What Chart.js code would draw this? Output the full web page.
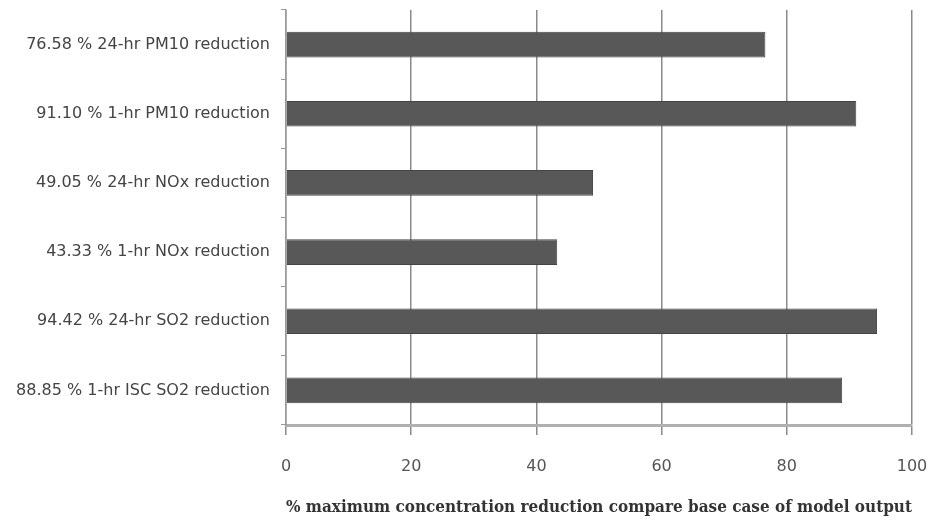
<!DOCTYPE html>
<html>
<head>
<meta charset="utf-8">
<script src="https://cdn.jsdelivr.net/npm/chart.js@4"></script>
<style>
  html,body{margin:0;padding:0;background:#fff;}
  #wrap{width:934px;height:527px;}
</style>
</head>
<body>
<div id="wrap"><canvas id="c" width="934" height="527"></canvas></div>
<script>
// values (top to bottom)
var labels = ["76.58 % 24-hr PM10 reduction","91.10 % 1-hr PM10 reduction","49.05 % 24-hr NOx reduction",
              "43.33 % 1-hr NOx reduction","94.42 % 24-hr SO2 reduction","88.85 % 1-hr ISC SO2 reduction"];
var reduction = [76.58, 91.10, 49.05, 43.33, 94.42, 88.85];
var xTicks = [0, 20, 40, 60, 80, 100];
var xTitle = "% maximum concentration reduction compare base case of model output";

var ctx = document.getElementById("c").getContext("2d");
var myChart = new Chart(ctx, {
  type: "bar",
  data: {
    labels: labels,
    datasets: [{
      data: reduction,
      backgroundColor: "#585858",
      borderColor: "#444",
      borderWidth: 1,
      categoryPercentage: 1,
      barPercentage: 0.37
    }]
  },
  options: {
    indexAxis: "y",
    responsive: false,
    animation: false,
    layout: {padding: {top: 10, right: 22, left: 0, bottom: 10}},
    plugins: {legend: {display: false}, tooltip: {enabled: false}},
    scales: {
      x: {
        min: 0, max: 100,
        afterBuildTicks: function(s){ s.ticks = xTicks.map(function(v){ return {value: v}; }); },
        afterFit: function(s){ s.height = 92; s.paddingLeft = 0; s.paddingRight = 0; },
        grid: {color: "#8a8a8a", lineWidth: 1.5, tickLength: 10, drawTicks: true},
        border: {display: true, color: "#b0b0b0", width: 3},
        ticks: {color: "#555", padding: 22, font: {family: "DejaVu Sans", size: 16}},
        title: {display: true, text: xTitle, color: "#333", padding: {top: 0, bottom: 0},
                font: {family: "DejaVu Serif", size: 16, weight: "bold"}}
      },
      y: {
        offset: true,
        afterFit: function(s){ s.width = 286; s.paddingTop = 0; s.paddingBottom = 0; },
        grid: {drawOnChartArea: false, offset: true, color: "#999", tickLength: 5},
        border: {display: true, color: "#9a9a9a", width: 1.5},
        ticks: {color: "#444", padding: 11, font: {family: "DejaVu Sans", size: 16}}
      }
    }
  }
});
</script>
</body>
</html>
